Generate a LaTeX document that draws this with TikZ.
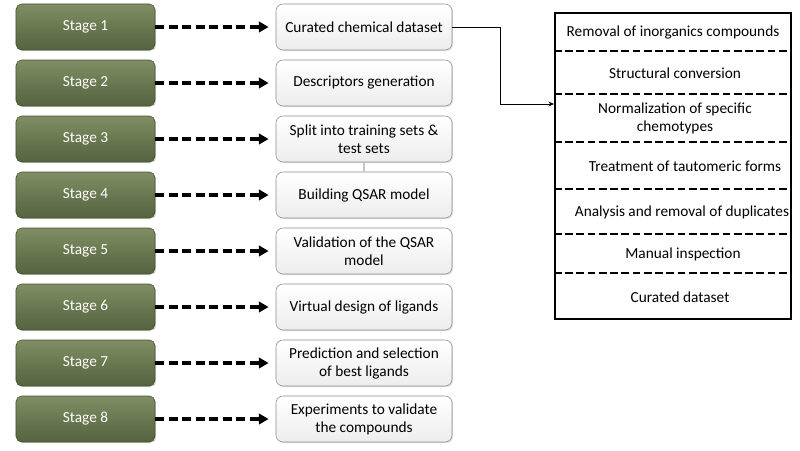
\documentclass[tikz,border=0pt]{standalone}
\usepackage{fontspec}
\setmainfont{Carlito}
\usetikzlibrary{arrows.meta,shadows}
\definecolor{stagetop}{RGB}{128,142,100}
\definecolor{stagebot}{RGB}{84,98,62}
\definecolor{stageedge}{RGB}{70,82,52}
\definecolor{taskedge}{RGB}{140,140,140}
\tikzset{
  stagebox/.style={rounded corners=4pt, draw=stageedge, top color=stagetop, bottom color=stagebot,
    text=white, minimum width=3.475cm, minimum height=1.15cm,
    drop shadow={opacity=0.3, shadow xshift=0.8pt, shadow yshift=-0.8pt}},
  taskbox/.style={rounded corners=5pt, draw=taskedge, top color=white, bottom color=gray!14,
    align=center, minimum width=4.4cm, minimum height=1.15cm, inner sep=2pt,
    drop shadow={opacity=0.25, shadow xshift=0.8pt, shadow yshift=-0.8pt}},
  dasharrow/.style={line width=2.2pt, dash pattern=on 6.4pt off 3.2pt,
    -{Triangle[length=7pt, width=7.5pt]}, shorten >=5pt},
  sepline/.style={line width=1.7pt, dash pattern=on 5.5pt off 2.5pt},
}
\begin{document}
\begin{tikzpicture}[x=0.025cm, y=-0.025cm, font=\fontsize{10.9}{12.8}\selectfont]
\useasboundingbox (0,0) rectangle (800,450); % cadre de l'image

% colonne des etapes
\foreach \i/\txt in {1/{Curated chemical dataset},
                     2/{Descriptors generation},
                     3/{Split into training sets \&\\ test sets},
                     4/{Building QSAR model},
                     5/{Validation of the QSAR\\ model},
                     6/{Virtual design of ligands},
                     7/{Prediction and selection\\ of best ligands},
                     8/{Experiments to validate\\ the compounds}} {
  \node[stagebox] (s\i) at (85.5, {27+56*(\i-1)}) {Stage \i};
  \node[taskbox] (t\i) at (364, {27+56*(\i-1)}) {\txt};
  \draw[dasharrow] (s\i.east) -- (t\i.west);
}
\draw[gray!45, line width=1pt] (t3.south) -- (t4.north);

% cadre de curation
\node[draw, line width=1.4pt, minimum width=5.9cm, minimum height=7.65cm, inner sep=0pt] (panel) at (673,166) {};
\foreach \y in {51,94,142,189,234,273}
  \draw[sepline] (panel.west |- 0,\y) -- (panel.east |- 0,\y);
\foreach \j/\x/\y/\txt in {1/673/32/{Removal of inorganics compounds},
                           2/675/73/{Structural conversion},
                           3/675/118/{Normalization of specific\\ chemotypes},
                           4/685/166/{Treatment of tautomeric forms},
                           5/682/212/{Analysis and removal of duplicates},
                           6/683/254/{Manual inspection},
                           7/680/297/{Curated dataset}}
  \node[align=center, inner sep=1pt] (p\j) at (\x,\y) {\txt};

\coordinate (entry) at (panel.west |- 0,104);
\draw[line width=0.6pt, -{Stealth[length=4pt, width=3.5pt]}] (t1.east) -- ++(48,0) |- (entry);
\end{tikzpicture}
\end{document}
